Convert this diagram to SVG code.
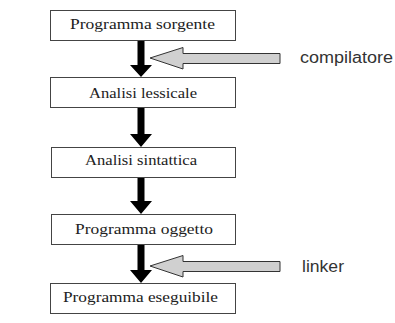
<svg xmlns="http://www.w3.org/2000/svg" width="395" height="323" viewBox="0 0 395 323">
<style>
.box{fill:#fff;stroke:#444;stroke-width:1}
.t{font-family:"Liberation Serif",serif;font-size:15px;fill:#222}
.lbl{font-family:"Liberation Sans",Arial,sans-serif;font-size:16px;fill:#333}
.blk{fill:#000}
.gry{fill:#d0d0d0;stroke:#333;stroke-width:1}
</style>
<rect width="395" height="323" fill="#fff"/>
<g id="connectors">
<polygon class="blk" points="137.5,40 144.5,40 144.5,65 152,65 141,77 130,65 137.5,65"/>
<polygon class="blk" points="137.5,108 144.5,108 144.5,134 152,134 141,147 130,134 137.5,134"/>
<polygon class="blk" points="137.5,177 144.5,177 144.5,201 152,201 141,214 130,201 137.5,201"/>
<polygon class="blk" points="137.5,244 144.5,244 144.5,270 152,270 141,283 130,270 137.5,270"/>
<polygon class="gry" points="150,58 183,47.5 183,53.5 280,53.5 280,63.5 183,63.5 183,69"/>
<polygon class="gry" points="150,266 183,255.5 183,261.5 280,261.5 280,271.5 183,271.5 183,277"/>
</g>
<g id="n1"><rect class="box" x="50.5" y="10.5" width="185" height="30"/><text class="t" x="70" y="29" textLength="145" lengthAdjust="spacingAndGlyphs">Programma sorgente</text></g>
<g id="n2"><rect class="box" x="50.5" y="77.5" width="185" height="30"/><text class="t" x="89" y="98" textLength="108" lengthAdjust="spacingAndGlyphs">Analisi lessicale</text></g>
<g id="n3"><rect class="box" x="51.5" y="147.5" width="184" height="30"/><text class="t" x="85" y="165" textLength="112" lengthAdjust="spacingAndGlyphs">Analisi sintattica</text></g>
<g id="n4"><rect class="box" x="51.5" y="214.5" width="184" height="30"/><text class="t" x="75" y="234" textLength="138" lengthAdjust="spacingAndGlyphs">Programma oggetto</text></g>
<g id="n5"><rect class="box" x="50.5" y="283.5" width="185" height="30"/><text class="t" x="63" y="302" textLength="155" lengthAdjust="spacingAndGlyphs">Programma eseguibile</text></g>
<g id="l1"><text class="lbl" x="300" y="63" textLength="93" lengthAdjust="spacingAndGlyphs">compilatore</text></g>
<g id="l2"><text class="lbl" x="302" y="272" textLength="42" lengthAdjust="spacingAndGlyphs">linker</text></g>
</svg>
